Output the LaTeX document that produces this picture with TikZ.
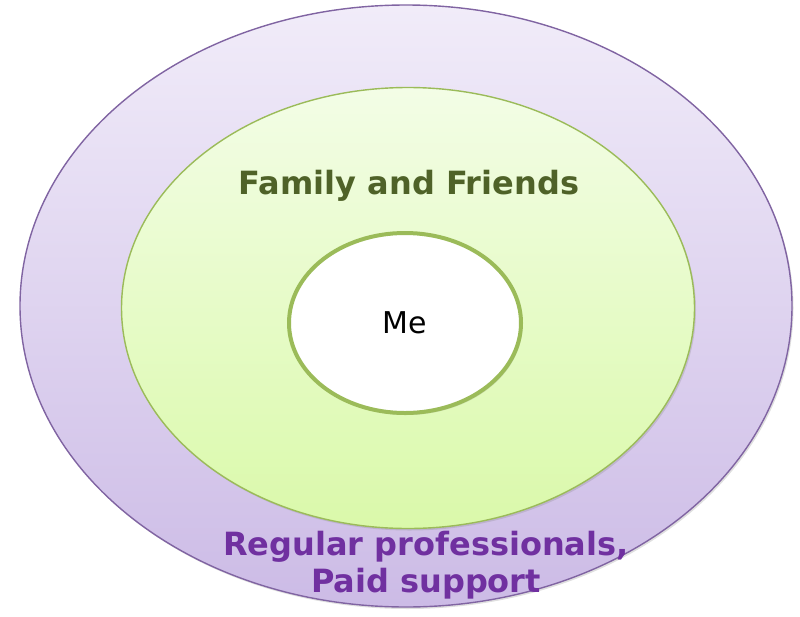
\documentclass[tikz,border=0pt]{standalone}
\usepackage{fontspec}
\setmainfont{DejaVu Sans}
\usetikzlibrary{shapes.geometric,shadows,positioning}
\definecolor{ringline}{HTML}{8064A2}
\definecolor{ringtop}{HTML}{F1ECF9}
\definecolor{ringbot}{HTML}{CCBBE6}
\definecolor{leafline}{HTML}{9BBB59}
\definecolor{leaftop}{HTML}{F3FDE6}
\definecolor{leafbot}{HTML}{DAF9AA}
\definecolor{leaftext}{HTML}{4F6228}
\definecolor{ringtext}{HTML}{7030A0}
\tikzset{
  zone/.style={ellipse, inner sep=0pt, drop shadow={opacity=0.25, shadow xshift=1.5pt, shadow yshift=-2pt}},
  outerzone/.style={zone, draw=ringline, line width=1.4pt, top color=ringtop, bottom color=ringbot,
    minimum width=772pt, minimum height=602pt},
  midzone/.style={zone, draw=leafline, line width=1.4pt, top color=leaftop, bottom color=leafbot,
    minimum width=573pt, minimum height=441pt},
  innerzone/.style={zone, draw=leafline, line width=4pt, fill=white,
    minimum width=232pt, minimum height=180pt},
  zonelabel/.style={font=\bfseries\fontsize{32}{37}\selectfont, align=center}
}

\begin{document}
\begin{tikzpicture}[x=1pt,y=-1pt]
    \useasboundingbox (0,0) rectangle (800,616);
    \node[outerzone] (paid) at (406,306) {};
    \node[midzone] (family) at (408,308) {};
    \node[innerzone] (me) at (405,323) {\fontsize{30}{32}\selectfont Me};
    \node[zonelabel, text=leaftext] (familytext) at (409,186) {Family and Friends};
    \node[zonelabel, text=ringtext] (paidtext) at (426,565) {Regular professionals,\\Paid support};
\end{tikzpicture}
\end{document}
